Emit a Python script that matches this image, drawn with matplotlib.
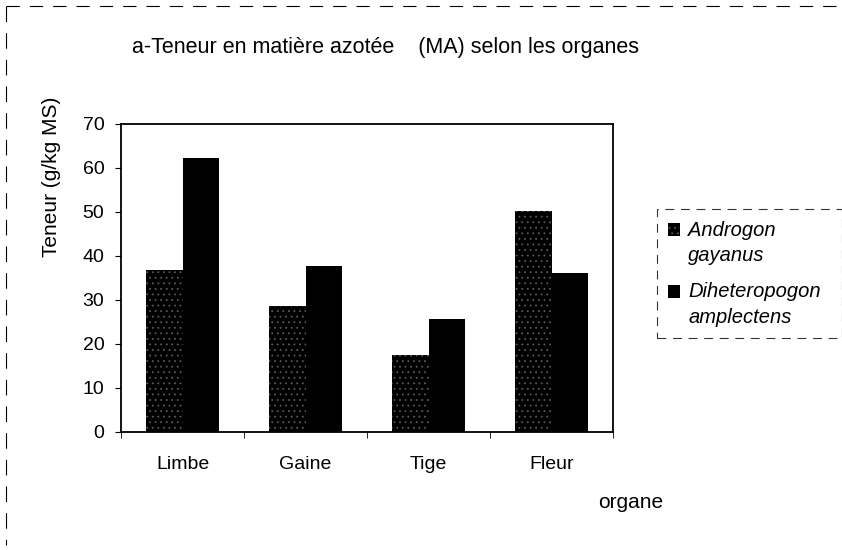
import matplotlib.pyplot as plt
import numpy as np

plt.rcParams['font.family'] = ['Liberation Sans', 'DejaVu Sans']
plt.rcParams['hatch.linewidth'] = 0.6

organes = ['Limbe', 'Gaine', 'Tige', 'Fleur']
androgon = [36.8, 28.7, 17.4, 50.3]
diheteropogon = [62.2, 37.7, 25.7, 36.2]

fig = plt.figure(figsize=(8.42, 5.5), dpi=100)
ax = fig.add_axes([121/842, 1-432/550, 492/842, 308/550])

x = np.arange(len(organes))
w = 0.3
ax.bar(x - w/2, androgon, w, color='black', hatch='...', edgecolor='#5a5a5a',
       linewidth=0, label='Androgon\ngayanus')
ax.bar(x + w/2, diheteropogon, w, color='black', linewidth=0,
       label='Diheteropogon\namplectens')

ax.set_xlim(-0.5, len(organes) - 0.5)
ax.set_ylim(0, 70)
ax.set_yticks(range(0, 71, 10))
ax.set_xticks(x)
ax.set_xticklabels(organes)
ax.set_xticks(np.arange(-0.5, len(organes), 1), minor=True)
ax.tick_params(axis='x', which='major', length=0, pad=17, labelsize=14)
ax.tick_params(axis='x', which='minor', length=4, direction='out')
ax.tick_params(axis='y', length=4, direction='out', labelsize=14, pad=8)
for s in ax.spines.values():
    s.set_linewidth(1.3)

fig.text(385/842, 1-47/550, 'a-Teneur en matière azotée    (MA) selon les organes',
         ha='center', va='center', fontsize=15.5)
fig.text(52/842, 1-177/550, 'Teneur (g/kg MS)', rotation=90, ha='center',
         va='center', fontsize=15)
fig.text(631/842, 1-503/550, 'organe', ha='center', va='center', fontsize=15)

leg = fig.legend(loc='upper left', bbox_to_anchor=(657/842, 1-210/550, 185/842, 0.001),
                 mode='expand', prop={'style': 'italic', 'size': 14.5},
                 frameon=True, fancybox=False, handlelength=0.6,
                 handleheight=0.6, handletextpad=0.4, labelspacing=0.85,
                 borderpad=0.55, borderaxespad=0)
for t in leg.get_texts():
    t.set_linespacing(1.45)
# put the square beside the first line of each label
for h in leg.legend_handles:
    h.set_y(h.get_y() + 10)
leg.get_frame().set_edgecolor('black')
leg.get_frame().set_linestyle((0, (8, 6)))
leg.get_frame().set_linewidth(0.8)

# scanned frame edges
fig.add_artist(plt.Line2D([6/842, 838/842], [1-6/550, 1-6/550], color='black',
                          lw=0.8, ls=(0, (12, 9))))
fig.add_artist(plt.Line2D([6/842, 6/842], [1-6/550, 1-545/550], color='black',
                          lw=0.8, ls=(0, (14, 10))))

fig.savefig('out.png', dpi=100)
